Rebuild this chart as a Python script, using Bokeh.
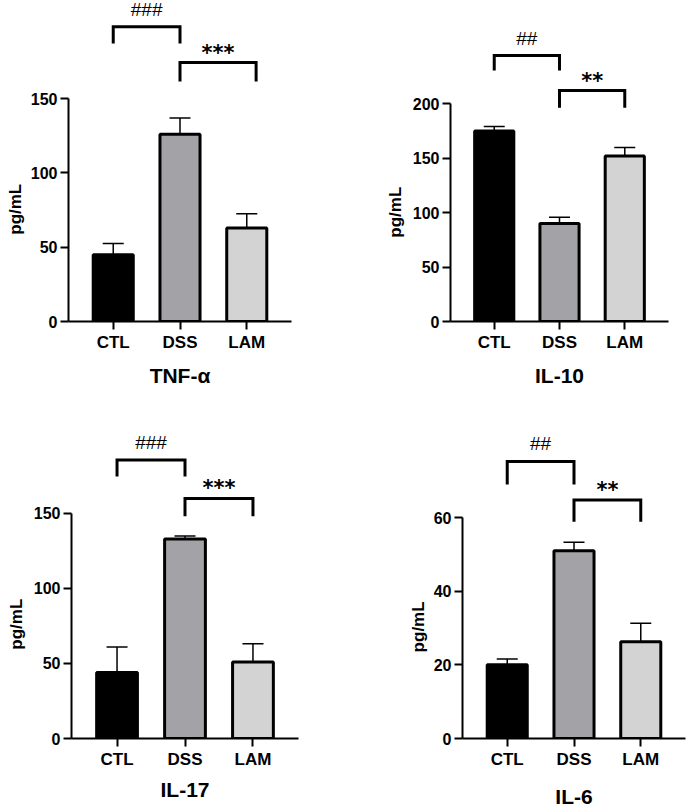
from bokeh.plotting import figure
from bokeh.layouts import column, row
from bokeh.models import (Range1d, FixedTicker, Whisker, TeeHead, Title,
                          ColumnDataSource, CanvasTexture)
from bokeh.core.properties import value
from bokeh.embed import file_html
from bokeh.resources import INLINE

# ---- data -------------------------------------------------------------
groups = ["CTL", "DSS", "LAM"]

tnf_mean = [45, 126, 63]
tnf_err = [7.5, 11, 9.5]
il10_mean = [175, 90, 152]
il10_err = [4.3, 5.8, 8]
il17_mean = [44, 133, 51]
il17_err = [17, 2, 12.2]
il6_mean = [20, 51, 26.3]
il6_err = [1.6, 2.3, 5]

# y-axis ticks
tnf_ticks = [0, 50, 100, 150]
il10_ticks = [0, 50, 100, 150, 200]
il17_ticks = [0, 50, 100, 150]
il6_ticks = [0, 20, 40, 60]

# significance: CTL vs DSS (#) and DSS vs LAM (*)
tnf_marks = ["###", "***"]
il10_marks = ["##", "**"]
il17_marks = ["###", "***"]
il6_marks = ["##", "**"]

# bracket levels (top, leg end) and label level, in pg/mL
tnf_brackets = [(198.4, 187.2, 209.9), (174.4, 161.5, 184.3)]
il10_brackets = [(244.4, 230.6, 260.2), (212.3, 196.4, 225.8)]
il17_brackets = [(185.6, 174.6, 197.6), (159.9, 148.2, 170.2)]
il6_brackets = [(75.2, 69.0, 80.0), (64.8, 58.9, 68.8)]

FONT = "Liberation Sans"
BAR_COLORS = ["#000000", "#a3a3a7"]
X_START, X_END = -0.67, 2.67
YLABEL_HALF = 25  # half the length of the rotated "pg/mL" title, px

checker = CanvasTexture(code="""
const s = scale / 2;
ctx.fillStyle = '#ffffff';
ctx.fillRect(0, 0, scale, scale);
ctx.fillStyle = '#9a9a9a';
ctx.fillRect(0, 0, s, s);
ctx.fillRect(s, s, s, s);
""")


def panel(title, means, errs, ticks, marks, brackets, y_end, star_shift,
          width, height, left, right, bottom, title_gap, ylabel_gap):
    p = figure(width=width, height=height, output_backend="svg",
               toolbar_location=None, x_range=Range1d(X_START, X_END),
               y_range=Range1d(0, y_end))
    p.min_border_top = 0
    p.min_border_left = left
    p.min_border_right = right
    p.min_border_bottom = bottom
    p.outline_line_color = None
    p.grid.visible = False
    p.background_fill_color = "white"
    p.border_fill_color = "white"

    xs = list(range(len(groups)))

    # bars: solid, grey and checker
    p.vbar(x=xs[:2], top=means[:2], width=0.6, bottom=0,
           fill_color=BAR_COLORS, line_color="black", line_width=3)
    p.vbar(x=xs[2:], top=means[2:], width=0.6, bottom=0,
           fill_color="white", line_color="black", line_width=3,
           hatch_pattern=value("checker"), hatch_extra={"checker": checker},
           hatch_scale=4, hatch_color="#9a9a9a")

    # upper error bars
    src = ColumnDataSource(dict(x=xs, lower=means,
                                upper=[m + e for m, e in zip(means, errs)]))
    p.add_layout(Whisker(base="x", lower="lower", upper="upper", source=src,
                         line_width=1.5, line_color="black", lower_head=None,
                         upper_head=TeeHead(size=21, line_width=1.5,
                                            line_color="black")))

    # comparison brackets
    pairs = [(0, 1), (1, 2 + star_shift)]
    bx, by = [], []
    for (a, b), (top, leg, _) in zip(pairs, brackets):
        bx.append([a, a, b, b])
        by.append([leg, top, top, leg])
    p.multi_line(xs=bx, ys=by, line_color="black", line_width=3,
                 line_join="miter")

    (a0, b0), (a1, b1) = pairs
    p.text(x=[(a0 + b0) / 2], y=[brackets[0][2]], text=[marks[0]],
           text_font=value(FONT), text_font_size="19px",
           text_align="center", text_baseline="middle", text_color="black")
    p.text(x=[(a1 + b1) / 2], y=[brackets[1][2]], text=[marks[1]],
           text_font=value("DejaVu Sans"), text_font_style="bold",
           text_font_size="21px", text_align="center",
           text_baseline="middle", text_color="black", y_offset=5)

    # axes
    xa, ya = p.xaxis[0], p.yaxis[0]
    xa.ticker = FixedTicker(ticks=xs)
    xa.major_label_overrides = {i: g for i, g in enumerate(groups)}
    ya.ticker = FixedTicker(ticks=ticks)
    ya.bounds = (0, ticks[-1])
    for ax in (xa, ya):
        ax.axis_line_width = 2
        ax.major_tick_line_width = 2
        ax.major_tick_in = 0
        ax.major_tick_out = 8
        ax.minor_tick_line_color = None
        ax.major_label_text_font = FONT
        ax.major_label_text_font_style = "bold"
        ax.major_label_text_color = "black"
        ax.axis_line_color = "black"
        ax.major_tick_line_color = "black"
    xa.major_label_text_font_size = "17px"
    xa.major_label_standoff = 3
    xa.axis_label = title
    xa.axis_label_text_font = FONT
    xa.axis_label_text_font_style = "bold"
    xa.axis_label_text_color = "black"
    xa.axis_label_text_font_size = "21px"
    xa.axis_label_standoff = title_gap
    ya.major_label_text_font_size = "16px"
    ya.major_label_standoff = 3

    # y title, centred on the drawn axis span (0 .. last tick) rather than
    # on the whole frame, which also holds the brackets
    frame_h = height - bottom
    span_mid = frame_h * (ticks[-1] / y_end) / 2
    p.add_layout(Title(text="pg/mL", align="left",
                       offset=span_mid - YLABEL_HALF,
                       standoff=ylabel_gap, text_font=FONT,
                       text_font_style="bold", text_font_size="17px",
                       text_color="black"), "left")
    return p


p1 = panel("TNF-α", tnf_mean, tnf_err, tnf_ticks, tnf_marks, tnf_brackets,
           216.1, 0.14, 344, 400, 67, 53, 78, 9, 6)
p2 = panel("IL-10", il10_mean, il10_err, il10_ticks, il10_marks, il10_brackets,
           295.0, 0.0, 344, 400, 106, 20, 79, 9, 9)
p3 = panel("IL-17", il17_mean, il17_err, il17_ticks, il17_marks, il17_brackets,
           225.3, 0.0, 344, 410, 70, 46, 68, 6, 9)
p4 = panel("IL-6", il6_mean, il6_err, il6_ticks, il6_marks, il6_brackets,
           91.8, 0.0, 344, 410, 118, 3, 70, 13, 6)

layout = column(row(p1, p2), row(p3, p4))
open("out.html", "w").write(file_html(layout, INLINE))
